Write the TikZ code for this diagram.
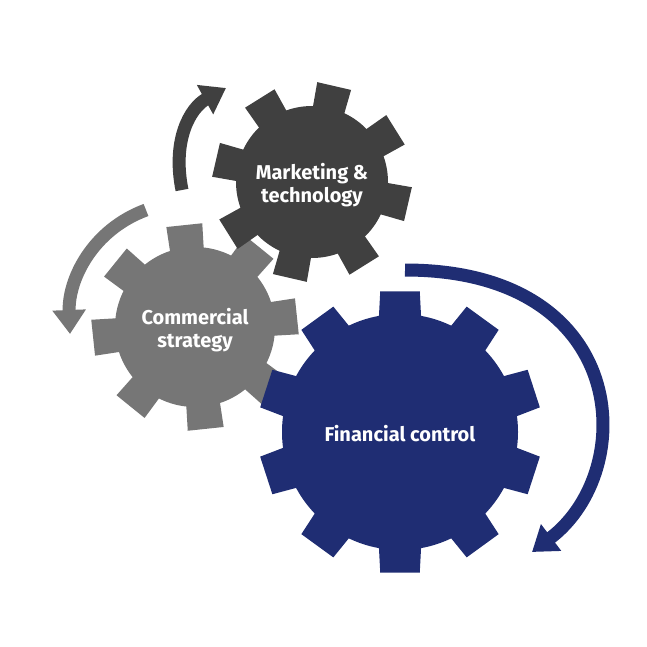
\documentclass[tikz,border=0pt]{standalone}
\usepackage{fontspec}
\setmainfont{Fira Sans}
\usetikzlibrary{arrows.meta}
\definecolor{gearblue}{RGB}{31,45,115}
\definecolor{geardark}{RGB}{64,64,64}
\definecolor{geargray}{RGB}{118,118,118}
\newcommand{\gear}[7]{% center, teeth, body r, tip r, offset, colour, half width
\fill[#6] #1 circle (#3);
\foreach \i in {1,...,#2}{
\pgfmathsetmacro\a{#5+360/#2*\i}
\fill[#6] ($#1+(\a-#7-3:#3-6)$) -- ($#1+(\a-#7:#4)$) -- ($#1+(\a+#7:#4)$) -- ($#1+(\a+#7+3:#3-6)$) -- cycle;
}}
\usetikzlibrary{calc}
\tikzset{label text/.style={text=white,font=\bfseries\fontsize{20}{23}\selectfont,align=center},
turn/.style={line width=13pt,-{Triangle[width=32pt,length=24pt]}}}
\begin{document}
\begin{tikzpicture}[x=1pt,y=-1pt]
\useasboundingbox (0,0) rectangle (647,647);
% gears
\gear{(195,327)}{8}{80}{104}{84}{geargray}{10}
\gear{(312,182)}{8}{76}{100}{103}{geardark}{10}
\gear{(400,432)}{10}{118}{142}{90}{gearblue}{8}
\node[label text] (comm) at (195,330) {Commercial\\strategy};
\node[label text] (mark) at (312,185) {Marketing \&\\technology};
\node[label text] (fin) at (400,434) {Financial control};
% arrows
\coordinate (a1) at (182,190); \coordinate (a2) at (226,88);
\coordinate (b1) at (146,210); \coordinate (b2) at (70,334);
\coordinate (c1) at (405,270); \coordinate (c2) at (532,552);
\draw[turn,geardark] (a1) .. controls (172,140) and (190,108) .. (a2);
\draw[turn,geargray] (b1) .. controls (92,230) and (68,280) .. (b2);
\draw[turn,gearblue] (c1) .. controls (630,270) and (640,470) .. (c2);
\end{tikzpicture}
\end{document}
